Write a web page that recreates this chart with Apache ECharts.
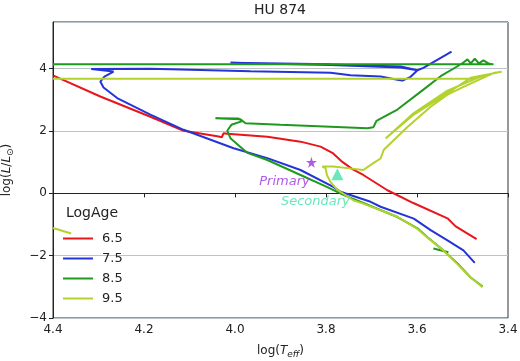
<!DOCTYPE html>
<html lang="en">
<head>
<meta charset="UTF-8">
<script src="https://cdn.jsdelivr.net/npm/echarts@6/dist/echarts.min.js"></script>
<title>HU 874</title>
<style>
    body { margin: 0; padding: 0; }
</style>
</head>
<body>
<div id="hr" style="width:520px;height:361px;"></div>
<script>
// isochrones, points are [log Teff, log L/Lsun]
var ages = ['6.5', '7.5', '8.5', '9.5'];
var colors = ['#e8161b', '#2434d8', '#1f9a1f', '#b2d22e'];

var iso65 = [[4.399,3.78],[4.296,3.11],[4.186,2.46],[4.113,2.01],[4.039,1.83],[4.029,1.80],[4.025,1.93],
    [4.017,1.91],[3.929,1.82],[3.856,1.66],[3.812,1.50],[3.786,1.30],[3.764,1.01],[3.742,0.78],
    [3.718,0.59],[3.665,0.10],[3.608,-0.31],[3.533,-0.80],[3.515,-1.06],[3.469,-1.47]];

var iso75 = [[3.473,-2.23],[3.498,-1.83],[3.533,-1.51],[3.570,-1.18],[3.607,-0.81],[3.680,-0.43],
    [3.702,-0.27],[3.768,0.05],[3.784,0.21],[3.856,0.75],[3.929,1.13],[4.003,1.45],[4.113,2.04],
    [4.186,2.53],[4.259,3.06],[4.289,3.40],[4.296,3.59],[4.287,3.75],[4.267,3.91],[4.316,3.99],
    [4.186,4.00],[3.966,3.92],[3.790,3.87],[3.746,3.79],[3.680,3.75],[3.643,3.65],[3.632,3.62],
    [3.614,3.74],[3.599,3.95],[3.636,4.07],[3.790,4.14],[4.010,4.19],[3.790,4.12],[3.636,4.04],
    [3.599,3.95],[3.586,4.03],[3.524,4.55]];

var iso85 = [[3.456,-2.99],[3.482,-2.70],[3.511,-2.25],[3.542,-1.83],[3.577,-1.41],[3.599,-1.12],
    [3.643,-0.76],[3.718,-0.31],[3.762,-0.05],[3.797,0.20],[3.856,0.59],[3.929,1.07],[3.973,1.30],
    [3.988,1.49],[4.010,1.77],[4.017,2.01],[4.008,2.20],[3.984,2.32],[3.992,2.40],[4.043,2.41],
    [3.988,2.38],[3.977,2.25],[3.900,2.20],[3.790,2.14],[3.709,2.09],[3.696,2.12],[3.689,2.33],
    [3.676,2.43],[3.643,2.69],[3.586,3.33],[3.548,3.76],[3.511,4.08],[3.498,4.20],[3.489,4.30],
    [3.482,4.17],[3.473,4.32],[3.464,4.17],[3.454,4.27],[3.443,4.17],[3.432,4.14],[4.4,4.14]];
var iso85hook = [[3.564,-1.77],[3.531,-1.89]];

var iso95 = [[3.456,-3.01],[3.482,-2.70],[3.511,-2.27],[3.542,-1.83],[3.577,-1.42],[3.599,-1.14],
    [3.643,-0.75],[3.718,-0.33],[3.740,-0.22],[3.775,0.11],[3.790,0.36],[3.798,0.59],[3.801,0.81],
    [3.808,0.86],[3.784,0.86],[3.753,0.81],[3.718,0.75],[3.696,0.97],[3.680,1.12],[3.673,1.40],
    [3.672,1.45],[3.621,2.13],[3.570,2.78],[3.533,3.17],[3.498,3.42],[3.432,3.86],[3.414,3.90],
    [3.482,3.71],[3.533,3.22],[3.607,2.53],[3.669,1.76],[3.607,2.58],[3.533,3.30],[3.460,3.75],
    [3.438,3.81],[3.482,3.68],[4.4,3.68]];
var iso95wd = [[4.4,-1.11],[4.36,-1.29]];

var primary = [[3.832, 1.00]];
var secondary = [[3.775, 0.61]];

var xTicks = [4.4, 4.2, 4.0, 3.8, 3.6, 3.4];
var yTicks = [-4, -2, 0, 2, 4];

var font = 'DejaVu Sans';
var star = 'path://M50,0 L61,35 L98,35 L68,57 L79,91 L50,70 L21,91 L32,57 L2,35 L39,35 Z';

function lineSeries(name, data, color) {
    return {
        name: name, type: 'line', data: data, symbol: 'none', clip: true,
        lineStyle: { color: color, width: 2 }, itemStyle: { color: color }
    };
}

var series = [
    lineSeries(ages[0], iso65, colors[0]),
    lineSeries(ages[1], iso75, colors[1]),
    lineSeries(ages[2], iso85, colors[2]),
    lineSeries(ages[2], iso85hook, colors[2]),
    lineSeries(ages[3], iso95, colors[3]),
    lineSeries(ages[3], iso95wd, colors[3]),
    {
        type: 'scatter', data: primary, symbol: star, symbolSize: 11,
        itemStyle: { color: '#9b2fe2' }, z: 5,
        label: { show: true, formatter: 'Primary', position: 'inside', offset: [-27, 19],
            color: '#9b2fe2', fontFamily: font, fontSize: 13, fontStyle: 'italic' }
    },
    {
        type: 'scatter', data: secondary, symbol: 'triangle', symbolSize: 12,
        itemStyle: { color: '#42e3a9' }, z: 5,
        label: { show: true, formatter: 'Secondary', position: 'inside', offset: [-22, 27],
            color: '#42e3a9', fontFamily: font, fontSize: 13, fontStyle: 'italic' }
    }
];

var chart = echarts.init(document.getElementById('hr'));
var option = {
    animation: false,
    textStyle: { fontFamily: font },
    grid: { left: 53, right: 12, top: 22, bottom: 43, containLabel: false, outerBoundsMode: 'none',
        show: true, borderColor: '#333', borderWidth: 1 },
    graphic: [
        { type: 'text', x: 280, y: 10, style: { text: 'HU 874', font: '14px "DejaVu Sans"', fill: '#222',
            textAlign: 'center', textVerticalAlign: 'middle' } },
        { type: 'text', x: 66, y: 213, style: { text: 'LogAge', font: '14px "DejaVu Sans"', fill: '#222',
            textAlign: 'left', textVerticalAlign: 'middle' } }
    ],
    legend: {
        data: ages, orient: 'vertical', left: 63, top: 232, padding: 0,
        icon: 'rect', itemWidth: 30, itemHeight: 2, itemGap: 7,
        textStyle: { fontFamily: font, fontSize: 13, color: '#222', padding: [0, 0, 0, 4] }
    },
    xAxis: {
        type: 'value', inverse: true, min: 3.4, max: 4.4, interval: 0.2,
        name: 'log({i|T}{s|eff})', nameLocation: 'middle', nameGap: 25,
        nameTextStyle: { fontFamily: font, fontSize: 12, color: '#222',
            rich: { i: { fontStyle: 'italic', fontSize: 12, fontFamily: font },
                    s: { fontStyle: 'italic', fontSize: 9, fontFamily: font, padding: [7, 0, 0, 0] } } },
        axisLine: { lineStyle: { color: '#222' } },
        axisTick: { length: 4, lineStyle: { color: '#222' } },
        axisLabel: { color: '#222', fontSize: 12, margin: 6,
            formatter: function (v) { return v.toFixed(1); } },
        splitLine: { show: false }
    },
    yAxis: {
        type: 'value', min: -4, max: 5.5, interval: 2,
        name: 'log({i|L}/{i|L}{s|⊙})', nameLocation: 'middle', nameGap: 38,
        nameTextStyle: { fontFamily: font, fontSize: 12, color: '#222',
            rich: { i: { fontStyle: 'italic', fontSize: 12, fontFamily: font },
                    s: { fontSize: 9, fontFamily: font, padding: [7, 0, 0, 0] } } },
        axisLine: { show: true, lineStyle: { color: '#222' } },
        axisTick: { show: true, length: 4, lineStyle: { color: '#222' } },
        axisLabel: { color: '#222', fontSize: 12, margin: 6, showMaxLabel: false,
            formatter: function (v) { return yTicks.indexOf(v) < 0 ? '' : String(v).replace('-', '\u2212'); } },
        splitLine: { show: true, lineStyle: { color: '#b9c3c8', width: 1 } }
    },
    series: series
};
chart.setOption(option);
</script>
</body>
</html>
